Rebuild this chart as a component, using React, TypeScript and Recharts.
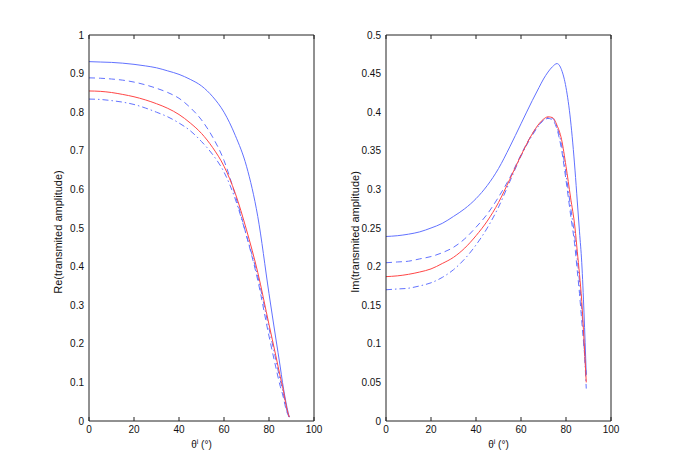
import React from 'react';
import { LineChart, Line, XAxis, YAxis } from 'recharts';

// incidence angle samples (deg)
const THETA_RE = [0, 5, 10, 15, 20, 25, 30, 35, 40, 45, 50, 55, 60, 65, 70, 75, 80, 83, 85, 86, 88, 89];
const THETA_IM = [0, 5, 10, 15, 20, 25, 30, 35, 40, 45, 50, 55, 60, 65, 68, 70, 72, 74, 76, 78, 80, 82, 84, 85, 86, 87, 88, 89];

// Re(transmitted amplitude)
const RE_SOLID = [0.931, 0.93, 0.929, 0.927, 0.924, 0.92, 0.915, 0.907, 0.898, 0.885, 0.868, 0.84, 0.8, 0.74, 0.66, 0.53, 0.33, 0.215, 0.14, 0.1, 0.035, 0.01];
const RE_RED = [0.855, 0.854, 0.851, 0.846, 0.84, 0.832, 0.822, 0.81, 0.794, 0.772, 0.745, 0.708, 0.66, 0.59, 0.495, 0.385, 0.25, 0.17, 0.115, 0.09, 0.03, 0.01];
const RE_DASH = [0.889, 0.888, 0.886, 0.883, 0.878, 0.871, 0.862, 0.851, 0.836, 0.812, 0.78, 0.735, 0.675, 0.585, 0.48, 0.365, 0.22, 0.14, 0.09, 0.07, 0.022, 0.01];
const RE_DASHDOT = [0.834, 0.833, 0.83, 0.826, 0.82, 0.811, 0.8, 0.788, 0.772, 0.752, 0.724, 0.69, 0.645, 0.575, 0.48, 0.375, 0.24, 0.16, 0.105, 0.082, 0.026, 0.01];

// Im(transmitted amplitude)
const IM_SOLID = [0.239, 0.24, 0.242, 0.245, 0.25, 0.256, 0.265, 0.275, 0.288, 0.305, 0.327, 0.355, 0.385, 0.415, 0.432, 0.443, 0.452, 0.459, 0.463, 0.455, 0.432, 0.39, 0.325, 0.285, 0.245, 0.205, 0.14, 0.06];
const IM_RED = [0.187, 0.188, 0.19, 0.193, 0.197, 0.204, 0.212, 0.224, 0.24, 0.259, 0.283, 0.313, 0.344, 0.372, 0.385, 0.391, 0.394, 0.393, 0.383, 0.365, 0.33, 0.29, 0.25, 0.22, 0.19, 0.155, 0.105, 0.05];
const IM_DASH = [0.205, 0.206, 0.207, 0.21, 0.213, 0.218, 0.225, 0.236, 0.251, 0.268, 0.29, 0.315, 0.345, 0.372, 0.384, 0.389, 0.392, 0.39, 0.378, 0.352, 0.312, 0.268, 0.225, 0.195, 0.165, 0.13, 0.095, 0.06];
const IM_DASHDOT = [0.17, 0.171, 0.172, 0.175, 0.179, 0.186, 0.196, 0.21, 0.228, 0.25, 0.277, 0.31, 0.343, 0.37, 0.383, 0.39, 0.393, 0.392, 0.381, 0.358, 0.32, 0.278, 0.236, 0.21, 0.18, 0.145, 0.1, 0.042];

const X_TICKS = [0, 20, 40, 60, 80, 100];
const RE_TICKS = [0, 0.1, 0.2, 0.3, 0.4, 0.5, 0.6, 0.7, 0.8, 0.9, 1];
const IM_TICKS = [0, 0.05, 0.1, 0.15, 0.2, 0.25, 0.3, 0.35, 0.4, 0.45, 0.5];

const reData = THETA_RE.map((t, i) => ({ t, solid: RE_SOLID[i], red: RE_RED[i], dash: RE_DASH[i], dashdot: RE_DASHDOT[i] }));
const imData = THETA_IM.map((t, i) => ({ t, solid: IM_SOLID[i], red: IM_RED[i], dash: IM_DASH[i], dashdot: IM_DASHDOT[i] }));

const BLUE = '#6272ff';
const RED = '#ff4646';
const AXIS = '#222';
const FONT = '"Liberation Sans", Arial, Helvetica, sans-serif';
const tickStyle = { fontSize: 10, fill: '#111', fontFamily: FONT };
const noTick = () => <g />;

const XLabel = ({ viewBox }: any) => (
  <text x={viewBox.x + viewBox.width / 2} y={viewBox.y + 27} textAnchor="middle" fontSize={10} fontFamily={FONT} fill="#111">
    θ<tspan dy={-4} fontSize={7}>i</tspan>
    <tspan dy={4}> (°)</tspan>
  </text>
);

const yLabel = (text: string) => ({ viewBox }: any) => {
  const x = viewBox.x + viewBox.width - 31.5;
  const y = viewBox.y + viewBox.height / 2 + 4;
  return (
    <text x={x} y={y} transform={`rotate(-90 ${x} ${y})`} textAnchor="middle" dominantBaseline="central" fontSize={11} fontFamily={FONT} fill="#111">
      {text}
    </text>
  );
};

const fmt = (v: number) => String(v);

function Panel({ data, width, yWidth, right, yTicks, yMax, label }: any) {
  return (
    <LineChart width={width} height={474} data={data} margin={{ top: 35, right, bottom: 0, left: 0 }}>
      <XAxis xAxisId="x" dataKey="t" type="number" domain={[0, 100]} ticks={X_TICKS} height={53}
        tick={tickStyle} tickLine={false} tickSize={0} tickMargin={5} axisLine={{ stroke: AXIS }} label={<XLabel />} />
      <XAxis xAxisId="xin" dataKey="t" type="number" domain={[0, 100]} ticks={X_TICKS} mirror
        tick={noTick} tickSize={4} tickLine={{ stroke: AXIS }} axisLine={false} />
      <XAxis xAxisId="top" dataKey="t" type="number" domain={[0, 100]} ticks={X_TICKS} orientation="top" mirror
        tick={noTick} tickSize={4} tickLine={{ stroke: AXIS }} axisLine={{ stroke: AXIS }} />
      <YAxis yAxisId="y" type="number" domain={[0, yMax]} ticks={yTicks} width={yWidth} tickFormatter={fmt}
        tick={tickStyle} tickLine={false} tickSize={0} tickMargin={5} axisLine={{ stroke: AXIS }} label={yLabel(label)} />
      <YAxis yAxisId="yin" type="number" domain={[0, yMax]} ticks={yTicks} mirror
        tick={noTick} tickSize={4} tickLine={{ stroke: AXIS }} axisLine={false} />
      <YAxis yAxisId="right" type="number" domain={[0, yMax]} ticks={yTicks} orientation="right" mirror
        tick={noTick} tickSize={4} tickLine={{ stroke: AXIS }} axisLine={{ stroke: AXIS }} />
      <Line xAxisId="x" yAxisId="y" type="monotone" dataKey="solid" stroke={BLUE} strokeWidth={1} dot={false} isAnimationActive={false} />
      <Line xAxisId="x" yAxisId="y" type="monotone" dataKey="dash" stroke={BLUE} strokeWidth={1} strokeDasharray="6 4" dot={false} isAnimationActive={false} />
      <Line xAxisId="x" yAxisId="y" type="monotone" dataKey="dashdot" stroke={BLUE} strokeWidth={1} strokeDasharray="6 3 1.5 3" dot={false} isAnimationActive={false} />
      <Line xAxisId="x" yAxisId="y" type="monotone" dataKey="red" stroke={RED} strokeWidth={1} dot={false} isAnimationActive={false} />
    </LineChart>
  );
}

export default function App() {
  return (
    <div style={{ position: 'absolute', left: 0, top: 0, width: 675, height: 474, background: '#fff', display: 'flex' }}>
      <Panel data={reData} width={337} yWidth={89} right={23} yTicks={RE_TICKS} yMax={1} label="Re(transmited amplitude)" />
      <Panel data={imData} width={338} yWidth={49} right={64} yTicks={IM_TICKS} yMax={0.5} label="Im(transmited amplitude)" />
    </div>
  );
}
